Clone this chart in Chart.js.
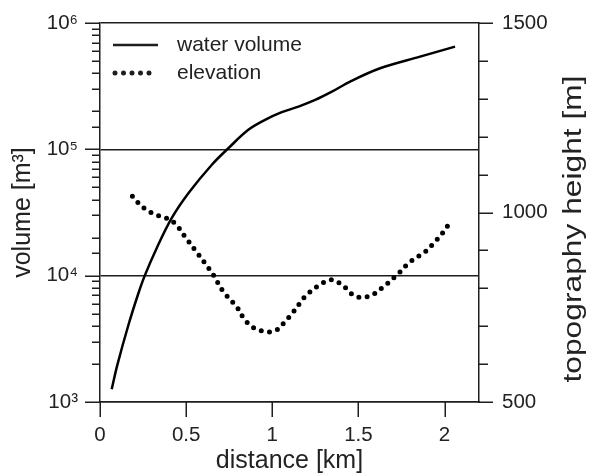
<!DOCTYPE html>
<html>
<head>
<meta charset="utf-8">
<title>water volume and elevation profile</title>
<script src="https://cdn.jsdelivr.net/npm/chart.js@4.4.1/dist/chart.umd.min.js"></script>
<style>
  body { margin: 0; background: #fff; }
  #wrap { width: 591px; height: 476px; }
</style>
</head>
<body>
<div id="wrap"><canvas id="profileChart" width="591" height="476"></canvas></div>
<script>
// distance [km] vs. water volume [m3] (left, log axis)
const waterDist = [0.068, 0.100, 0.165, 0.223, 0.261, 0.329, 0.416, 0.513, 0.648, 0.745,
                   0.861, 0.958, 1.055, 1.152, 1.249, 1.346, 1.452, 1.626, 1.858, 2.061];
const waterVolume = [1260, 1950, 4070, 7260, 10100, 16500, 28500, 44900, 75200, 102000,
                     142600, 171000, 196800, 217800, 246000, 286000, 344000, 438000, 542000, 650000];

// distance [km] vs. topography height [m] (right axis)
const elevDist = [0.188, 0.251, 0.329, 0.377, 0.436, 0.494, 0.552, 0.610, 0.658, 0.716,
                  0.794, 0.842, 0.900, 0.977, 1.026, 1.070, 1.123, 1.190, 1.258, 1.316,
                  1.355, 1.413, 1.471, 1.520, 1.578, 1.645, 1.723, 1.800, 1.887, 1.945,
                  1.994, 2.042];
const elevation = [1043, 1013, 993, 987, 971, 936, 901, 866, 835, 791,
                   751, 716, 694, 685, 690, 710, 738, 778, 804, 819,
                   822, 806, 782, 776, 782, 804, 835, 870, 896, 923,
                   949, 982];

const seriesNames = ["water volume", "elevation"];
const distTicks = [0, 0.5, 1, 1.5, 2];
const heightLabels = [500, 1000, 1500];
const supDigits = { 3: "\u00b3", 4: "\u2074", 5: "\u2075", 6: "\u2076" };

const ink = "#1e1e1e";
const textColor = "#222";
const fontFamily = '"Liberation Sans", Arial, sans-serif';

function isDecade(v) {
  const l = Math.log10(v);
  return Math.abs(l - Math.round(l)) < 1e-9;
}

// fixed axis width; drop the label overhang so the plot box sits where we want it
function fixVertical(width) {
  return s => {
    s.width = width;
    s.paddingTop = 0;
    s.paddingBottom = 0;
  };
}

// tick marks of different lengths, the legend and the right-hand title
const extras = {
  id: "extras",
  afterDraw(chart) {
    const { ctx, chartArea, scales } = chart;
    ctx.save();
    ctx.strokeStyle = ink;
    ctx.lineWidth = 1.5;
    ctx.beginPath();
    scales.y.ticks.forEach(t => {
      const py = Math.round(scales.y.getPixelForValue(t.value)) + 0.25;
      ctx.moveTo(chartArea.left - (isDecade(t.value) ? 15 : 8), py);
      ctx.lineTo(chartArea.left, py);
    });
    scales.y2.ticks.forEach(t => {
      const py = Math.round(scales.y2.getPixelForValue(t.value)) + 0.25;
      ctx.moveTo(chartArea.right, py);
      ctx.lineTo(chartArea.right + (heightLabels.includes(t.value) ? 14 : 9), py);
    });
    scales.x.ticks.forEach(t => {
      const px = Math.round(scales.x.getPixelForValue(t.value)) + 0.25;
      ctx.moveTo(px, chartArea.bottom);
      ctx.lineTo(px, chartArea.bottom + 15);
    });
    ctx.stroke();

    // legend
    const lx = chartArea.left + 13;
    const ly1 = chartArea.top + 22;
    const ly2 = chartArea.top + 50;
    ctx.lineWidth = 2.5;
    ctx.beginPath();
    ctx.moveTo(lx, ly1);
    ctx.lineTo(lx + 45, ly1);
    ctx.stroke();
    ctx.lineWidth = 5;
    ctx.lineCap = "round";
    ctx.setLineDash([0, 8.5]);
    ctx.beginPath();
    ctx.moveTo(lx + 2, ly2);
    ctx.lineTo(lx + 38, ly2);
    ctx.stroke();
    ctx.setLineDash([]);
    ctx.fillStyle = textColor;
    ctx.font = "21px " + fontFamily;
    ctx.textBaseline = "middle";
    ctx.textAlign = "left";
    ctx.fillText(seriesNames[0], lx + 64, ly1);
    ctx.fillText(seriesNames[1], lx + 64, ly2);

    // right title, reading bottom to top like the left one
    ctx.translate(581, 229);
    ctx.rotate(-Math.PI / 2);
    ctx.scale(1.27, 1);
    ctx.font = "25px " + fontFamily;
    ctx.textAlign = "center";
    ctx.textBaseline = "alphabetic";
    ctx.fillText("topography height [m]", 0, 0);
    ctx.restore();
  }
};

new Chart(document.getElementById("profileChart"), {
  type: "line",
  data: {
    datasets: [
      {
        label: seriesNames[0],
        data: waterDist.map((d, i) => ({ x: d, y: waterVolume[i] })),
        yAxisID: "y",
        borderColor: "#000",
        borderWidth: 2.5,
        pointRadius: 0,
        tension: 0.35,
        fill: false
      },
      {
        label: seriesNames[1],
        data: elevDist.map((d, i) => ({ x: d, y: elevation[i] })),
        yAxisID: "y2",
        borderColor: "#000",
        borderWidth: 5,
        borderDash: [0, 8.3],
        borderCapStyle: "round",
        pointRadius: 0,
        tension: 0.35,
        fill: false
      }
    ]
  },
  options: {
    responsive: false,
    animation: false,
    devicePixelRatio: 1,
    layout: { padding: { top: 23, left: 0, right: 0, bottom: 0 } },
    plugins: { legend: { display: false }, tooltip: { enabled: false } },
    scales: {
      x: {
        type: "linear",
        min: 0,
        max: 2.2,
        afterBuildTicks: s => { s.ticks = distTicks.map(v => ({ value: v })); },
        afterFit: s => { s.height = 74; },
        grid: { display: false, drawTicks: false },
        border: { display: true, color: ink, width: 1.5 },
        ticks: {
          autoSkip: false, maxRotation: 0, padding: 21, color: textColor,
          font: { family: fontFamily, size: 20.5 },
          callback: v => String(v)
        },
        title: {
          display: true, text: "distance [km]", color: textColor,
          font: { family: fontFamily, size: 25 }, padding: { top: 0, bottom: 0 }
        }
      },
      y: {
        type: "logarithmic",
        position: "left",
        min: 1000,
        max: 1000000,
        afterFit: fixVertical(100),
        grid: {
          drawTicks: false,
          lineWidth: 1.5,
          color: c => (c.tick && isDecade(c.tick.value)) ? ink : "rgba(0,0,0,0)"
        },
        border: { display: true, color: ink, width: 1.5 },
        ticks: {
          autoSkip: false, padding: 22, color: textColor,
          font: { family: fontFamily, size: 20.5 },
          callback: v => isDecade(v) ? "10" + supDigits[Math.round(Math.log10(v))] : ""
        },
        title: {
          display: true, text: "volume [m\u00b3]", color: textColor,
          font: { family: fontFamily, size: 25 }, padding: { top: 8, bottom: 0 }
        }
      },
      y2: {
        type: "linear",
        position: "right",
        min: 500,
        max: 1500,
        afterFit: fixVertical(112),
        grid: { display: false, drawTicks: false },
        border: { display: true, color: ink, width: 1.5 },
        ticks: {
          stepSize: 100, autoSkip: false, padding: 23, color: textColor,
          font: { family: fontFamily, size: 20.5 },
          callback: v => heightLabels.includes(v) ? String(v) : ""
        }
      }
    }
  },
  plugins: [extras]
});
</script>
</body>
</html>
